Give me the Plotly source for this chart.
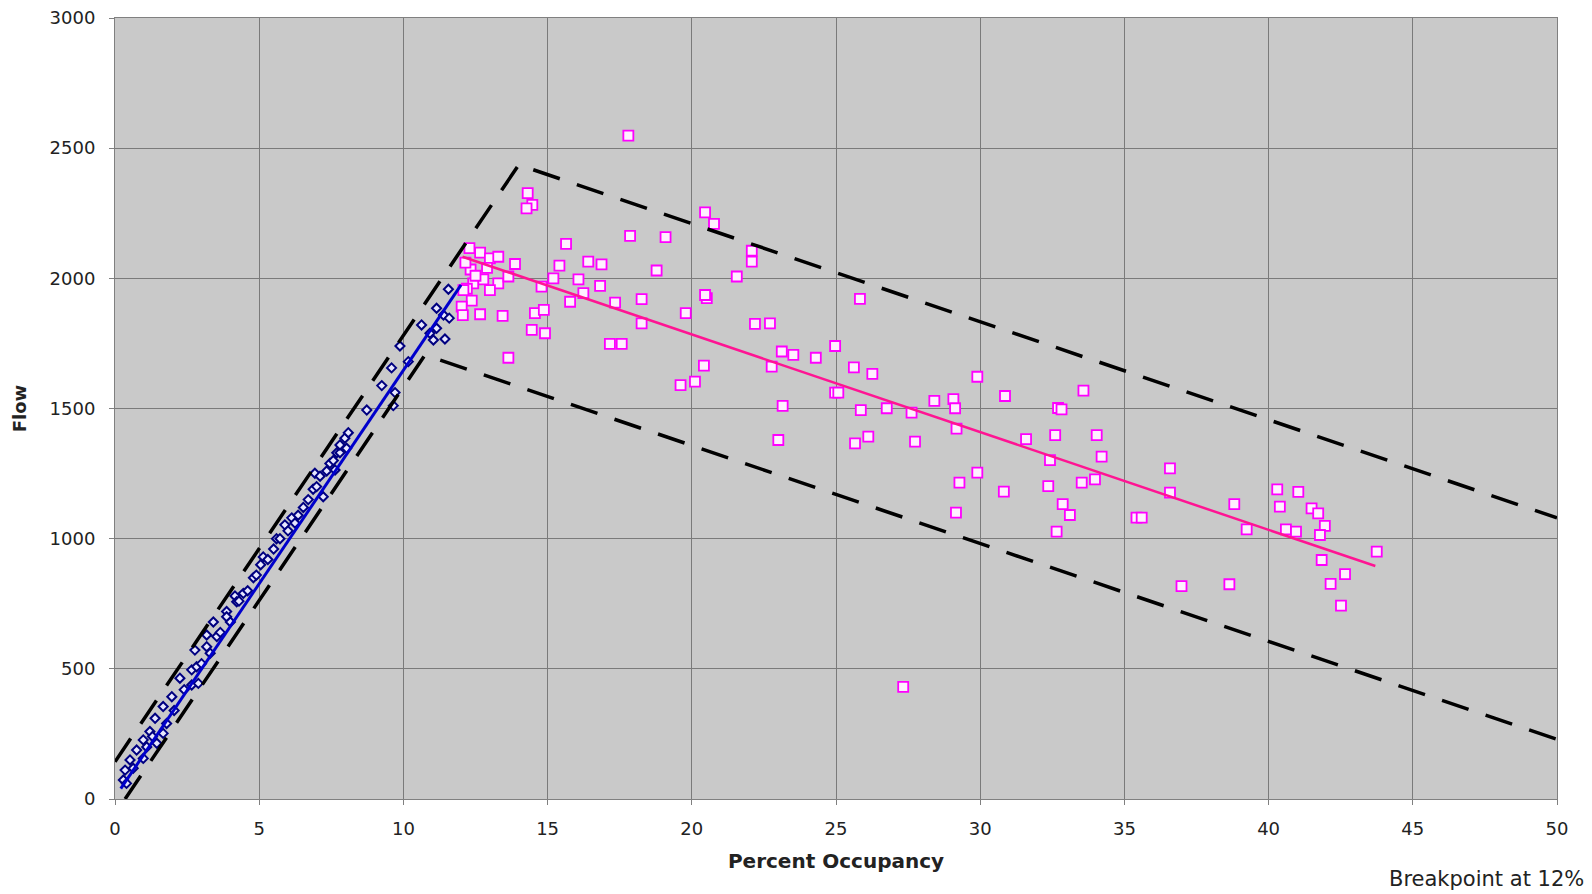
import plotly.graph_objects as go

# ---------------- data ----------------
blue_occ = [0.29, 0.35, 0.40, 0.52, 0.63, 0.75, 0.98, 0.98, 1.10, 1.21, 1.30, 1.39, 1.45,
            1.67, 1.67, 1.79, 1.97, 2.05, 2.25, 2.40, 2.66, 2.66, 2.77, 2.83, 2.89, 3.00,
            3.18, 3.18, 3.30, 3.41, 3.53, 3.65, 3.87, 3.87, 4.00, 4.16, 4.22, 4.30, 4.45,
            4.60, 4.80, 4.90, 5.05, 5.14, 5.30, 5.50, 5.60, 5.72, 5.89, 6.00, 6.13, 6.24,
            6.35, 6.53, 6.70, 6.87, 6.93, 6.99, 7.11, 7.22, 7.34, 7.45, 7.57, 7.63, 7.69,
            7.80, 7.80, 7.97, 8.03, 8.09, 8.73, 9.25, 9.59, 9.65, 9.71, 9.88, 10.17,
            10.63, 10.92, 11.04, 11.15, 11.15, 11.39, 11.44, 11.56, 11.59]
blue_flow = [73, 111, 60, 150, 118, 188, 227, 156, 200, 259, 240, 310, 214,
             355, 252, 290, 393, 340, 464, 420, 496, 438, 572, 508, 444, 520,
             630, 585, 560, 680, 624, 640, 720, 700, 680, 780, 758, 760, 790,
             800, 850, 860, 900, 930, 920, 960, 1000, 1000, 1053, 1030, 1080, 1060,
             1090, 1120, 1150, 1190, 1251, 1200, 1240, 1161, 1260, 1289, 1300, 1264, 1330,
             1330, 1360, 1386, 1347, 1407, 1494, 1588, 1656, 1511, 1561, 1740, 1680,
             1821, 1789, 1763, 1885, 1808, 1859, 1767, 1958, 1847]

pink_occ = [17.80, 14.31, 14.47, 14.27, 12.29, 12.66, 13.00, 13.29, 13.87, 15.64, 17.86,
            19.09, 12.33, 12.77, 13.29, 13.64, 15.41, 16.41, 16.87, 18.78, 15.20, 16.07,
            16.82, 14.79, 13.00, 12.42, 12.37, 12.02, 15.78, 16.24, 17.34, 18.26, 20.52,
            20.46, 21.56, 22.08, 22.08, 20.46, 20.77, 12.66, 13.44, 12.06, 14.56, 14.87,
            19.79, 18.26, 14.45, 14.91, 22.19, 17.16, 17.57, 13.64, 20.42, 20.11, 19.61,
            12.20, 12.08, 12.50, 12.15, 12.90, 25.83, 22.71, 24.97, 23.12, 23.52, 24.30,
            22.77, 25.62, 26.26, 29.90, 24.97, 25.08, 30.86, 28.41, 29.07, 29.13, 23.15,
            25.86, 26.76, 27.62, 32.70, 23.00, 25.66, 26.12, 27.74, 29.18, 32.60, 31.59,
            32.42, 29.90, 29.28, 30.82, 32.36, 32.65, 29.16, 27.33, 33.58, 32.82, 34.04,
            34.21, 33.52, 33.98, 36.58, 36.58, 32.86, 33.11, 35.42, 35.60, 38.81, 39.24,
            40.30, 41.03, 40.39, 41.49, 41.72, 41.95, 40.60, 40.95, 41.78, 43.75, 41.84,
            42.65, 42.15, 42.51, 36.98, 38.64]
pink_flow = [2548, 2327, 2282, 2269, 2116, 2099, 2077, 2083, 2055, 2132, 2163,
             2158, 2034, 1996, 1981, 2007, 2049, 2064, 2054, 2030, 2000, 1996,
             1971, 1968, 1955, 1981, 1914, 1891, 1910, 1943, 1907, 1920, 1924,
             1936, 2007, 2064, 2106, 2253, 2209, 1862, 1856, 1859, 1866, 1879,
             1866, 1827, 1802, 1789, 1825, 1748, 1748, 1695, 1665, 1603, 1590,
             1960, 1955, 2010, 2060, 2040, 1921, 1827, 1740, 1719, 1706, 1695,
             1661, 1658, 1633, 1622, 1561, 1561, 1548, 1529, 1536, 1501, 1510,
             1494, 1501, 1484, 1502, 1379, 1366, 1392, 1373, 1423, 1398, 1382,
             1302, 1254, 1215, 1181, 1202, 1027, 1100, 431, 1569, 1497, 1398,
             1315, 1215, 1228, 1270, 1177, 1133, 1091, 1081, 1081, 1133, 1036,
             1189, 1180, 1123, 1116, 1097, 1049, 1036, 1027, 1014, 950, 918,
             864, 826, 743, 818, 825]

blue_fit_occ = [0.2, 12.0]
blue_fit_flow = [40, 1975]
pink_fit_occ = [12.05, 43.7]
pink_fit_flow = [2083, 895]
upper_occ = [0, 14.0, 50]
upper_flow = [143, 2436, 1080]
lower_occ = [0.35, 10.75, 50]
lower_flow = [0, 1706, 229]

x_ticks = [0, 5, 10, 15, 20, 25, 30, 35, 40, 45, 50]
y_ticks = [0, 500, 1000, 1500, 2000, 2500, 3000]

FONT = "DejaVu Sans"

fig = go.Figure()

fig.add_trace(go.Scatter(
    x=blue_occ, y=blue_flow, mode="markers",
    marker=dict(symbol="diamond", size=7, color="#e8e8ff",
                line=dict(color="#000080", width=2)),
    showlegend=False))

fig.add_trace(go.Scatter(
    x=pink_occ, y=pink_flow, mode="markers",
    marker=dict(symbol="square", size=10, color="#fff0ff",
                line=dict(color="#ff00ff", width=1.8)),
    showlegend=False))

fig.add_trace(go.Scatter(
    x=blue_fit_occ, y=blue_fit_flow, mode="lines",
    line=dict(color="#0000cc", width=3), showlegend=False))

fig.add_trace(go.Scatter(
    x=pink_fit_occ, y=pink_fit_flow, mode="lines",
    line=dict(color="#ff1493", width=2.5), showlegend=False))

for xs, ys in [(upper_occ, upper_flow), (lower_occ, lower_flow)]:
    fig.add_trace(go.Scatter(
        x=xs, y=ys, mode="lines",
        line=dict(color="black", width=3.5, dash="28px,18px"),
        showlegend=False))

axis_common = dict(
    showgrid=True, gridcolor="#7a7a7a", gridwidth=1,
    showline=True, linecolor="#808080", linewidth=1, mirror=True,
    ticks="outside", ticklen=5, tickcolor="#808080",
    zeroline=False, automargin=False,
    tickfont=dict(family=FONT, size=18, color="#222222"),
)

fig.update_xaxes(
    range=[0, 50], tickvals=x_ticks, ticktext=[str(v) for v in x_ticks],
    ticklabelstandoff=8,
    title=dict(text="Percent Occupancy", standoff=16,
               font=dict(family=FONT, size=20, color="#222222", weight="bold")),
    **axis_common)

fig.update_yaxes(
    range=[0, 3000], tickvals=y_ticks, ticktext=[str(v) for v in y_ticks],
    ticklabelstandoff=10,
    title=dict(text="Flow", standoff=18,
               font=dict(family=FONT, size=18, color="#222222", weight="bold")),
    **axis_common)

fig.add_annotation(
    text="Breakpoint at 12%", xref="paper", yref="paper",
    x=1.02, y=-0.1024, xanchor="right", yanchor="middle", showarrow=False,
    font=dict(family=FONT, size=21, color="#222222"))

fig.update_layout(
    width=1592, height=894,
    margin=dict(l=115, r=35, t=18, b=95),
    paper_bgcolor="white", plot_bgcolor="#c9c9c9",
)

fig.write_html("out.html")
